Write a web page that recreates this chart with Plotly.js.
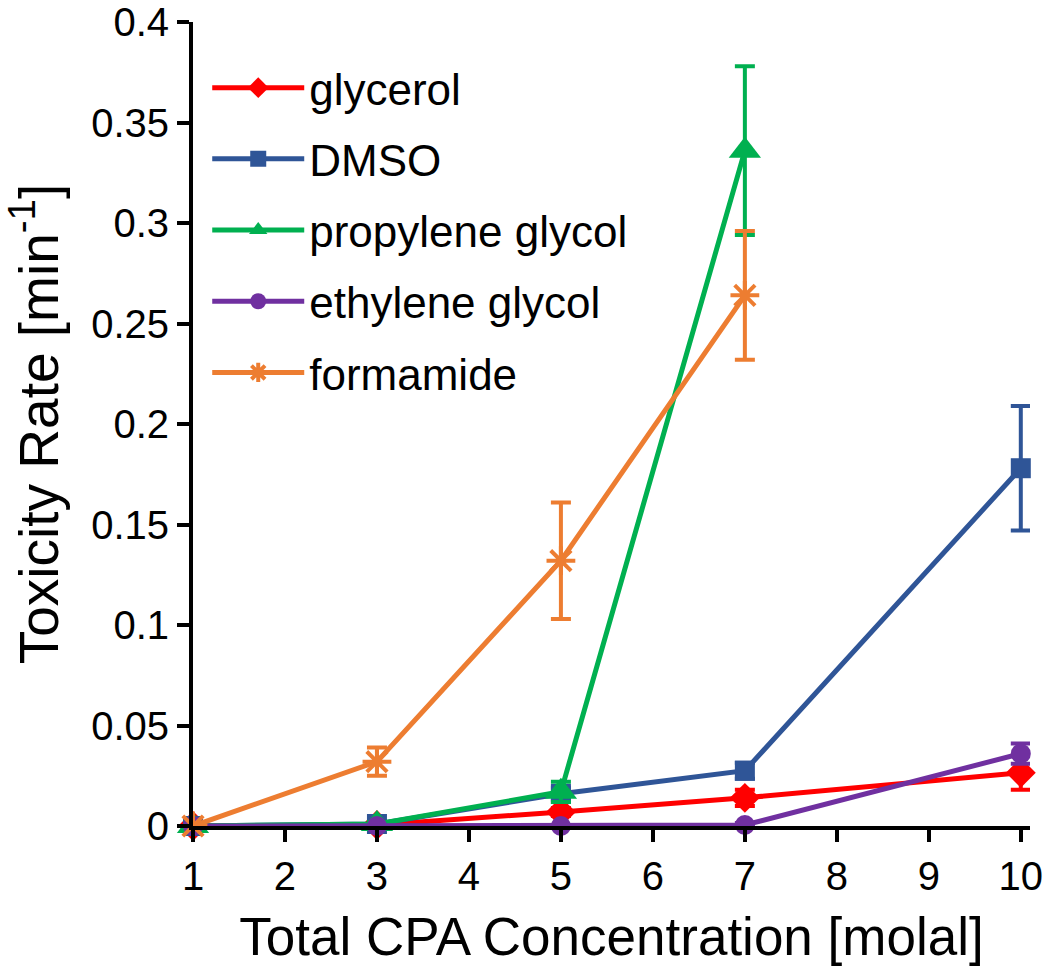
<!DOCTYPE html>
<html>
<head>
<meta charset="utf-8">
<script src="https://cdn.plot.ly/plotly-3.0.1.min.js"></script>
<style>html,body{margin:0;padding:0;background:#fff;}</style>
</head>
<body>
<div id="chart" style="width:1050px;height:976px;"></div>
<script>
const concentration = [1, 3, 5, 7, 10];
const concentrationPG = [1, 3, 5, 7];
const concentrationForm = [1, 3, 5, 7];

const glycerol = [0, 0.0005, 0.007, 0.014, 0.0265];
const glycerolErr = [0, 0.001, 0.002, 0.004, 0.0085];

const dmso = [0, 0.001, 0.016, 0.0275, 0.178];
const dmsoErr = [0, 0.001, 0.003, 0.004, 0.031];

const propyleneGlycol = [0, 0.001, 0.017, 0.336];
const propyleneGlycolErr = [0, 0.001, 0.005, 0.042];

const ethyleneGlycol = [0, 0, 0, 0.0005, 0.036];
const ethyleneGlycolErr = [0, 0, 0, 0.001, 0.005];

const formamide = [0, 0.032, 0.132, 0.264];
const formamideErr = [0, 0.007, 0.029, 0.032];

const xTicks = [1, 2, 3, 4, 5, 6, 7, 8, 9, 10];
const yTicks = [0, 0.05, 0.1, 0.15, 0.2, 0.25, 0.3, 0.35, 0.4];
const yTickLabels = ["0", "0.05", "0.1", "0.15", "0.2", "0.25", "0.3", "0.35", "0.4"];

function series(name, x, y, err, color, symbol, size, lineW) {
  return {
    type: 'scatter', mode: 'lines+markers', name: name, legendgroup: name,
    x: x, y: y, cliponaxis: false,
    line: {color: color, width: 5},
    marker: {color: color, symbol: symbol, size: size, line: {color: color, width: lineW || 0}},
    error_y: {type: 'data', array: err, visible: true, color: color, thickness: 4, width: 10}
  };
}

const data = [
  series('glycerol', concentration, glycerol, glycerolErr, '#FF0000', 'diamond', 23),
  series('DMSO', concentration, dmso, dmsoErr, '#2F5597', 'square', 20),
  series('propylene glycol', concentrationPG, propyleneGlycol, propyleneGlycolErr, '#00B050', 'triangle-up', 28),
  series('ethylene glycol', concentration, ethyleneGlycol, ethyleneGlycolErr, '#7030A0', 'circle', 20),
  series('formamide', concentrationForm, formamide, formamideErr, '#ED7D31', 'asterisk-open', 24, 4)
];

const layout = {
  width: 1050, height: 976,
  margin: {l: 193, r: 20, t: 22, b: 150},
  paper_bgcolor: '#fff', plot_bgcolor: '#fff',
  font: {family: 'Liberation Sans, Arial, sans-serif', color: '#000'},
  showlegend: true,
  legend: {
    x: 0.017, y: 0.962, xanchor: 'left', yanchor: 'top',
    font: {size: 44, color: '#000'},
    bgcolor: 'rgba(255,255,255,0)',
    tracegroupgap: 11, itemwidth: 92, traceorder: 'grouped'
  },
  xaxis: {
    range: [1, 10.1], tickvals: xTicks, ticktext: xTicks.map(String),
    showgrid: false, zeroline: false, showline: true, linecolor: '#000', linewidth: 4,
    ticks: 'outside', ticklen: 12, tickwidth: 4, tickcolor: '#000',
    tickfont: {size: 40},
    title: {text: 'Total CPA Concentration [molal]', font: {size: 53}, standoff: 22}
  },
  yaxis: {
    range: [0, 0.4], tickvals: yTicks, ticktext: yTickLabels,
    showgrid: false, zeroline: false, showline: true, linecolor: '#000', linewidth: 4,
    ticks: 'outside', ticklen: 12, tickwidth: 4, tickcolor: '#000',
    tickfont: {size: 40},
    title: {text: 'Toxicity Rate [min<sup>-1</sup>]', font: {size: 55}, standoff: 32}
  }
};

Plotly.newPlot('chart', data, layout, {displayModeBar: false, staticPlot: true});
</script>
</body>
</html>
